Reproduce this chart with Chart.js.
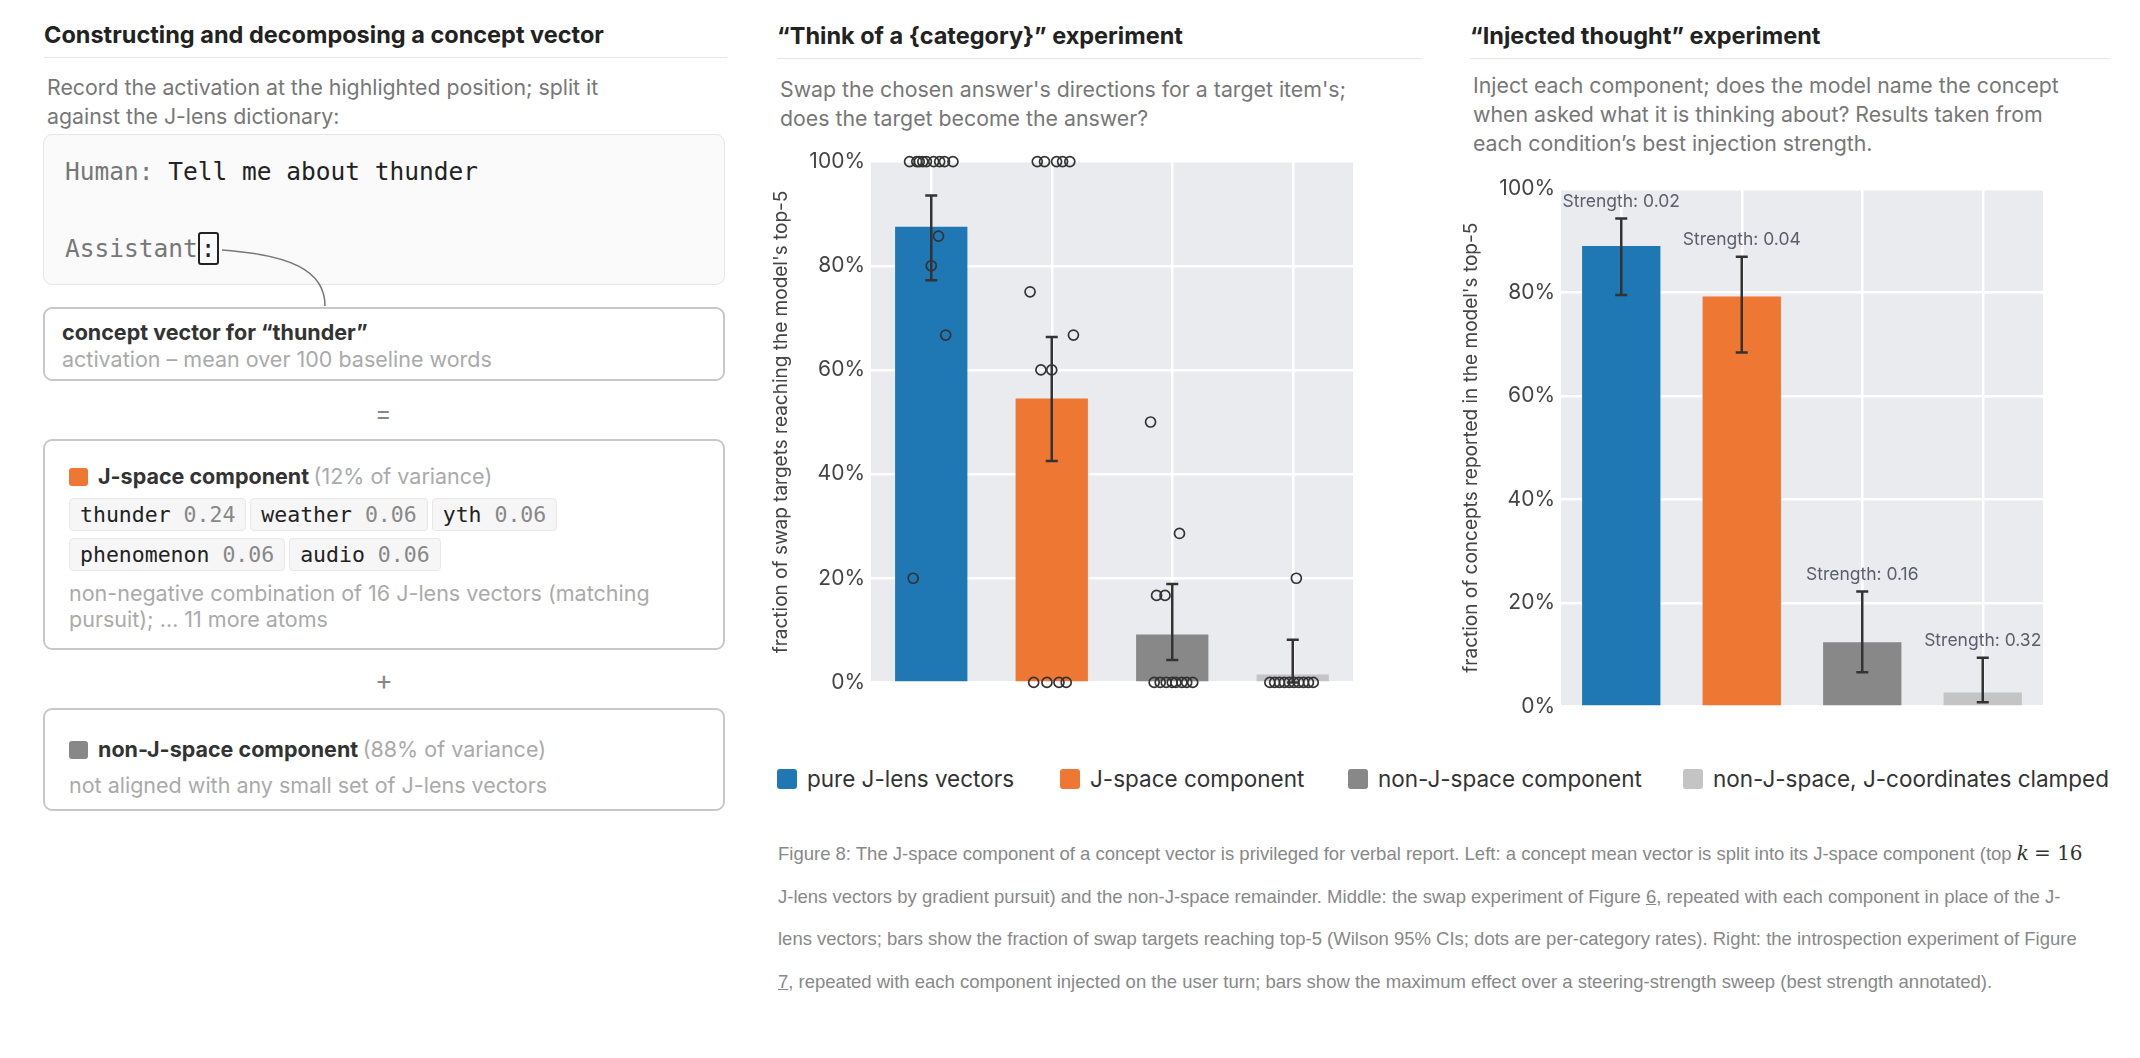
<!DOCTYPE html>
<html><head><meta charset="utf-8">
<script src="https://cdn.jsdelivr.net/npm/chart.js@4"></script>
<style>
body{margin:0;width:2140px;height:1058px;background:#fff;font-family:Inter,"Open Sans",sans-serif;position:relative;overflow:hidden}
.abs{position:absolute}
.title{font-weight:700;font-size:23.5px;color:#222;border-bottom:1.5px solid #e6e6e6;padding-bottom:8px}
.sub{font-size:21.3px;color:#777;line-height:29px}
.box{position:absolute;left:43px;width:682px;border:2px solid #c8c8c8;border-radius:9px;box-sizing:border-box}
.mono{font-family:"DejaVu Sans Mono","Liberation Mono",monospace}
.chip{display:inline-block;background:#f6f6f6;border:1.5px solid #e8e8e8;border-radius:4px;padding:3px 10px;margin:0 4px 7px 0;font-size:21.5px;color:#222}
.chip span{color:#888}
.b{font-weight:700;color:#333;font-size:21.5px}
.g{color:#aaa;font-size:21.5px}
.leg{position:absolute;top:765px;font-size:22.5px;color:#333;display:flex;align-items:center}
.leg i{display:inline-block;width:20px;height:20px;border-radius:3px;margin-right:10px}
#cap{left:778px;white-space:nowrap;font-family:"Liberation Sans",Arial,sans-serif;font-size:18.5px;color:#888;line-height:42.5px}
.m{font-family:'DejaVu Serif',serif;color:#333;font-size:20px}
</style></head><body>
<div class="abs title" style="left:44px;top:20px;width:683px">Constructing and decomposing a concept vector</div>
<div class="abs sub" style="left:47px;top:73px">Record the activation at the highlighted position; split it<br>against the J-lens dictionary:</div>
<div class="abs" style="left:43px;top:134px;width:682px;height:151px;background:#fafafa;border:1.5px solid #e6e6e6;border-radius:9px;box-sizing:border-box"></div>
<div class="abs mono" style="left:65px;top:157px;font-size:24.5px;color:#777">Human: <span style="color:#222">Tell me about thunder</span></div>
<div class="abs mono" style="left:65px;top:234px;font-size:24.5px;color:#777">Assistant<span style="border:2px solid #222;border-radius:3px;color:#222;padding:0 1px">:</span></div>
<svg class="abs" style="left:0;top:0" width="760" height="320"><path d="M222 250 C 290 255, 325 270, 325 306" fill="none" stroke="#777" stroke-width="1.5"/></svg>
<div class="box" style="top:307px;height:74px;padding:10px 0 0 17px;line-height:27px"><div class="b">concept vector for “thunder”</div><div class="g">activation – mean over 100 baseline words</div></div>
<div class="abs" style="left:375px;top:398px;font-size:25px;color:#888">=</div>
<div class="box" style="top:439px;height:211px;padding:21px 0 0 24px">
<div style="line-height:28px;margin-bottom:6px"><i style="display:inline-block;width:19px;height:18px;background:#ee7733;border-radius:3px;vertical-align:-2px;margin-right:10px"></i><span class="b">J-space component</span> <span class="g">(12% of variance)</span></div>
<div class="mono"><span class="chip">thunder <span>0.24</span></span><span class="chip">weather <span>0.06</span></span><span class="chip">yth <span>0.06</span></span><br><span class="chip">phenomenon <span>0.06</span></span><span class="chip">audio <span>0.06</span></span></div>
<div class="g" style="line-height:26px;margin-top:2px">non-negative combination of 16 J-lens vectors (matching<br>pursuit); … 11 more atoms</div></div>
<div class="abs" style="left:375px;top:664px;font-size:27px;color:#888">+</div>
<div class="box" style="top:708px;height:103px;padding:22px 0 0 24px;line-height:34px">
<div><i style="display:inline-block;width:19px;height:18px;background:#888;border-radius:3px;vertical-align:-2px;margin-right:10px"></i><span class="b">non-J-space component</span> <span class="g">(88% of variance)</span></div>
<div class="g">not aligned with any small set of J-lens vectors</div></div>

<div class="abs title" style="left:777px;top:21px;width:645px">“Think of a {category}” experiment</div>
<div class="abs sub" style="left:780px;top:75px">Swap the chosen answer's directions for a target item's;<br>does the target become the answer?</div>
<div class="abs title" style="left:1470px;top:21px;width:640px">“Injected thought” experiment</div>
<div class="abs sub" style="left:1473px;top:71px">Inject each component; does the model name the concept<br>when asked what it is thinking about? Results taken from<br>each condition’s best injection strength.</div>

<div class="abs" style="left:770px;top:143px;width:590px;height:558px"><canvas id="c1"></canvas></div>
<div class="abs" style="left:1460px;top:170px;width:590px;height:555px"><canvas id="c2"></canvas></div>

<div class="leg" style="left:777px"><i style="background:#1f77b4"></i>pure J-lens vectors</div>
<div class="leg" style="left:1060px"><i style="background:#ee7733"></i>J-space component</div>
<div class="leg" style="left:1348px"><i style="background:#888"></i>non-J-space component</div>
<div class="leg" style="left:1683px"><i style="background:#c4c4c4"></i>non-J-space, J-coordinates clamped</div>

<div id="cap" class="abs" style="top:832px">Figure 8: The J-space component of a concept vector is privileged for verbal report. Left: a concept mean vector is split into its J-space component (top <i class="m">k</i> <span class="m">= 16</span><br>J-lens vectors by gradient pursuit) and the non-J-space remainder. Middle: the swap experiment of Figure <u>6</u>, repeated with each component in place of the J-<br>lens vectors; bars show the fraction of swap targets reaching top-5 (Wilson 95% CIs; dots are per-category rates). Right: the introspection experiment of Figure<br><u>7</u>, repeated with each component injected on the user turn; bars show the maximum effect over a steering-strength sweep (best strength annotated).</div>

<script>
const categories = ["pure J-lens vectors","J-space component","non-J-space component","non-J-space, J-coordinates clamped"];
const colors = ["#1f77b4","#ee7733","#888888","#c4c4c4"];
// Middle: swap experiment
const swapRate = [87.5, 54.5, 9.2, 1.5];
const swapLo = [77.2, 42.5, 4.3, 0.0];
const swapHi = [93.5, 66.3, 18.9, 8.2];
const dotCat = [0,0,0,0,0,0,0,0,0,0,0,0,0, 1,1,1,1,1,1,1,1,1,1,1,1,1, 2,2,2,2,2,2,2,2,2,2,2,2, 3,3,3,3,3,3,3,3,3,3,3];
const dotVal = [100,100,100,100,100,100,100,100,100,85.7,80,66.7,20, 100,100,100,100,100,75,66.7,60,60,0,0,0,0, 50,28.6,16.7,16.7,0,0,0,0,0,0,0,0, 20,0,0,0,0,0,0,0,0,0,0];
const dotJitter = [-0.18,-0.12,-0.10,-0.07,-0.04,0.02,0.07,0.11,0.18,0.06,0,0.12,-0.15, -0.12,-0.06,0.04,0.09,0.15,-0.18,0.18,-0.09,0,-0.15,-0.04,0.06,0.12, -0.18,0.06,-0.13,-0.06,-0.15,-0.1,-0.05,0,0.03,0.08,0.12,0.17, 0.03,-0.19,-0.15,-0.11,-0.07,-0.03,0.01,0.05,0.09,0.13,0.17];
// Right: injected thought
const injRate = [89.0, 79.2, 12.4, 2.7];
const injLo = [79.5, 68.4, 6.6, 0.8];
const injHi = [94.3, 86.9, 22.2, 9.4];
const injStrength = ["0.02","0.04","0.16","0.32"];
const yTicks = [0,20,40,60,80,100];

const errPlugin = {
  id:'err',
  afterDatasetsDraw(chart){
    const o = chart.options.plugins.err; if(!o) return;
    const ctx = chart.ctx, x = chart.scales.x, y = chart.scales.y;
    ctx.save(); ctx.strokeStyle='#333'; ctx.lineWidth=2.5;
    o.lo.forEach((lo,i)=>{
      const px = x.getPixelForValue(i), a=y.getPixelForValue(lo), b=y.getPixelForValue(o.hi[i]);
      ctx.beginPath(); ctx.moveTo(px,a); ctx.lineTo(px,b);
      ctx.moveTo(px-6,a); ctx.lineTo(px+6,a); ctx.moveTo(px-6,b); ctx.lineTo(px+6,b); ctx.stroke();
      if(o.labels){ ctx.fillStyle='#5a606b'; ctx.font='17.5px Inter, sans-serif'; ctx.textAlign='center'; ctx.textBaseline='bottom';
        ctx.fillText('Strength: '+o.labels[i], px, b-8); }
    });
    ctx.restore();
  }
};
const bgPlugin = {id:'bg', beforeDraw(chart){const a=chart.chartArea,c=chart.ctx;c.save();c.fillStyle='#eaebee';c.fillRect(a.left,a.top,a.right-a.left,a.bottom-a.top);c.restore();}};

function opts(title, err, extraScales, padTop){
  return {
    responsive:true, maintainAspectRatio:false, animation:false,
    layout:{padding:{top:padTop,right:7,bottom:0,left:0}},
    plugins:{legend:{display:false}, tooltip:{enabled:false}, err},
    scales:Object.assign({
      x:{type:'category', offset:true, ticks:{display:false}, grid:{color:'#fff',lineWidth:2.5,offset:false,drawTicks:false}, border:{display:false},
         afterFit(s){s.height=8;}},
      y:{min:0,max:100, afterBuildTicks(s){s.ticks=yTicks.map(v=>({value:v}));},
         ticks:{callback:v=>v+'%', color:'#444', font:{size:21,family:'Inter, sans-serif'}, padding:6},
         grid:{color:'#fff',lineWidth:2.5,drawTicks:false}, border:{display:false},
         title:{display:true,text:title,color:'#444',font:{size:19,family:'Inter, sans-serif'},padding:{top:0,bottom:4}},
         afterFit(s){s.width=101;}}
    }, extraScales)
  };
}

new Chart(document.getElementById('c1'),{
  plugins:[bgPlugin, errPlugin],
  data:{labels:categories, datasets:[
    {type:'bar', data:swapRate, backgroundColor:colors, barPercentage:0.6, categoryPercentage:1, grouped:false, order:2},
    {type:'scatter', xAxisID:'x2', data:dotVal.map((v,i)=>({x:dotCat[i]+dotJitter[i], y:v})),
     pointRadius:5, pointBorderColor:'#333', pointBorderWidth:1.7, pointBackgroundColor:'rgba(0,0,0,0)', order:1, clip:false}
  ]},
  options:opts("fraction of swap targets reaching the model's top-5", {lo:swapLo, hi:swapHi},
    {x2:{type:'linear', min:-0.5, max:3.5, display:false}}, 16)
});

new Chart(document.getElementById('c2'),{
  plugins:[bgPlugin, errPlugin],
  data:{labels:categories, datasets:[
    {type:'bar', data:injRate, backgroundColor:colors, barPercentage:0.65, categoryPercentage:1}
  ]},
  options:opts("fraction of concepts reported in the model's top-5", {lo:injLo, hi:injHi, labels:injStrength}, {}, 19)
});
</script>
</body></html>
